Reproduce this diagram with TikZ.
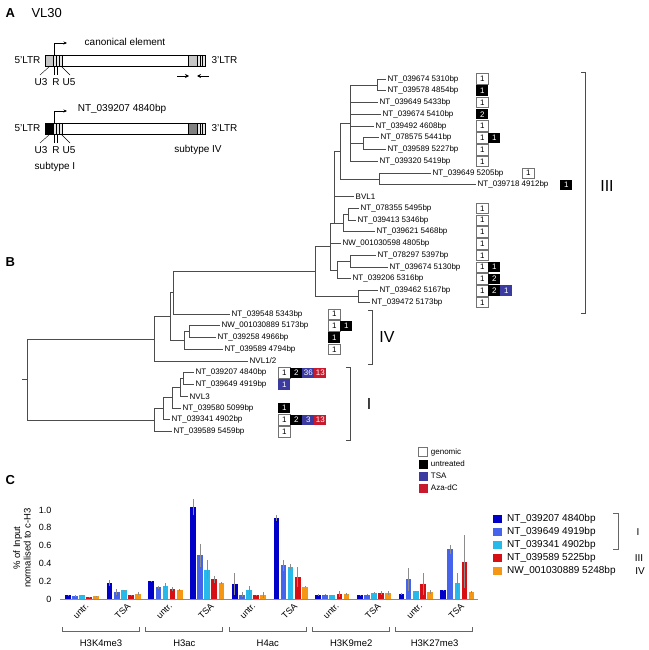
\documentclass[tikz,border=0pt]{standalone}
\usepackage{fontspec}
\setmainfont{Liberation Sans}
\usetikzlibrary{calc,positioning,arrows.meta}

\definecolor{tsablue}{RGB}{58,58,160}
\definecolor{azared}{RGB}{200,25,45}
\definecolor{barc0}{RGB}{0,0,200}
\definecolor{barc1}{RGB}{70,100,235}
\definecolor{barc2}{RGB}{40,185,235}
\definecolor{barc3}{RGB}{215,15,20}
\definecolor{barc4}{RGB}{245,150,20}

\begin{document}
\begin{tikzpicture}[x=1pt,y=-1pt,font=\fontsize{8}{9.6}\selectfont]
    \tikzstyle{branch}=[draw=black!70, line width=0.6pt];
    \tikzstyle{leaf}=[anchor=west, inner sep=1.5pt];
    \tikzstyle{cnt}=[anchor=west, minimum width=12pt, minimum height=10.5pt, inner sep=0pt, line width=0.5pt];
    \tikzstyle{cntg}=[cnt, draw=black!55, fill=white];
    \tikzstyle{cntu}=[cnt, fill=black, text=white];
    \tikzstyle{cntt}=[cnt, fill=tsablue, text=white];
    \tikzstyle{cnta}=[cnt, fill=azared, text=white];
    \tikzstyle{key}=[minimum size=9pt, inner sep=0pt, line width=0.5pt];
    \tikzstyle{keyg}=[key, draw=black!55, fill=white];
    \tikzstyle{keyu}=[key, fill=black];
    \tikzstyle{keyt}=[key, fill=tsablue];
    \tikzstyle{keya}=[key, fill=azared];
    \tikzstyle{clade}=[draw=black!70, line width=0.7pt];
    \tikzstyle{panel}=[anchor=west, font=\fontsize{13}{13}\selectfont\bfseries];
    \tikzstyle{big}=[font=\fontsize{10}{12}\selectfont];
    \tikzstyle{errbar}=[draw=black!45, line width=0.4pt];
    \tikzstyle{swatch}=[minimum width=9pt, minimum height=8pt, inner sep=0pt];

    \useasboundingbox (0,0) rectangle (648,650);

    % Panel A: the two VL30 elements
    \node[panel] (lblA) at (2,13) {A};
    \node[anchor=west, font=\fontsize{13}{13}\selectfont] (vl30) at (28,13) {VL30};
    \foreach \yb/\ucol/\rcol/\n in {55/black!22/black!22/1, 123/black/black!50/2} {
      \draw[fill=white, line width=0.5pt] (45,\yb) rectangle (205,\yb+11);
      \fill[\ucol] (45,\yb) rectangle (53,\yb+11);
      \fill[black!10] (53,\yb) rectangle (62,\yb+11);
      \fill[\rcol] (188,\yb) rectangle (197,\yb+11);
      \fill[black!10] (197,\yb) rectangle (205,\yb+11);
      \foreach \xl in {53,56,59,62,188,197,200,202.5}
        \draw[line width=0.4pt] (\xl,\yb) -- (\xl,\yb+11);
      \draw[line width=0.5pt] (45,\yb) rectangle (205,\yb+11);
      % promoter
      \draw[line width=0.5pt, -{Stealth[length=3.5pt,width=3pt]}] (54.5,\yb) -- (54.5,\yb-12) -- (67,\yb-12);
      % U3 R U5 leaders
      \draw[line width=0.4pt] (50,\yb+11) -- (40,\yb+20);
      \draw[line width=0.4pt] (54.5,\yb+11) -- (54.5,\yb+20);
      \draw[line width=0.4pt] (57.5,\yb+11) -- (57.5,\yb+20);
      \draw[line width=0.4pt] (61,\yb+11) -- (70,\yb+20);
      \node[big] (u3-\n) at (41,\yb+27) {U3};
      \node[big] (r-\n) at (56,\yb+27) {R};
      \node[big] (u5-\n) at (69,\yb+27) {U5};
      \node[big, anchor=east] (ltr5-\n) at (44,\yb+5.5) {5'LTR};
      \node[big, anchor=west] (ltr3-\n) at (208,\yb+5.5) {3'LTR};
    }
    \node[big] (canon) at (125,42) {canonical element};
    \node[big] (elem) at (122,109) {NT\_039207 4840bp};
    \node[big] (subIV) at (198,150) {subtype IV};
    \node[big] (subI) at (55,167) {subtype I};
    % primers
    \draw[line width=0.9pt, -{Stealth[length=4pt,width=4pt]}] (177,76) -- (189,76);
    \draw[line width=0.9pt, -{Stealth[length=4pt,width=4pt]}] (209,76) -- (197,76);

    % Panel B: tree
    \node[panel] (lblB) at (2,262) {B};

    % leaves
    \foreach \k/\txt/\xe [evaluate=\k as \yy using 79+11.75*\k] in {
      0/NT\_039674 5310bp/386, 1/NT\_039578 4854bp/386, 2/NT\_039649 5433bp/378,
      3/NT\_039674 5410bp/381, 4/NT\_039492 4608bp/374, 5/NT\_078575 5441bp/379,
      6/NT\_039589 5227bp/386, 7/NT\_039320 5419bp/378, 8/NT\_039649 5205bp/431,
      9/NT\_039718 4912bp/476, 10/BVL1/354, 11/NT\_078355 5495bp/359,
      12/NT\_039413 5346bp/356, 13/NT\_039621 5468bp/375, 14/NW\_001030598 4805bp/341,
      15/NT\_078297 5397bp/376, 16/NT\_039674 5130bp/388, 17/NT\_039206 5316bp/351,
      18/NT\_039462 5167bp/378, 19/NT\_039472 5173bp/370, 20/NT\_039548 5343bp/230,
      21/NW\_001030889 5173bp/220, 22/NT\_039258 4966bp/216, 23/NT\_039589 4794bp/223,
      24/{NVL1/2}/248, 25/NT\_039207 4840bp/194, 26/NT\_039649 4919bp/194,
      27/NVL3/188, 28/NT\_039580 5099bp/181, 29/NT\_039341 4902bp/170,
      30/NT\_039589 5459bp/172}
      \node[leaf] (L\k) at (\xe,\yy) {\txt};

    % internal nodes
    \coordinate (p01) at (377,84.9);
    \coordinate (p56) at (363,143.6);
    \coordinate (p89) at (379,178.9);
    \coordinate (pA) at (350,123.1);
    \coordinate (pB) at (340,151);
    \coordinate (p1112) at (348,214.1);
    \coordinate (p1113) at (343,222.9);
    \coordinate (pD) at (334,222.9);
    \coordinate (p1516) at (350,261.1);
    \coordinate (pW) at (337,269.9);
    \coordinate (pU) at (330,246.4);
    \coordinate (p1819) at (358,296.4);
    \coordinate (pIII) at (315,271.4);
    \coordinate (pIVa) at (173,292.7);
    \coordinate (p2122) at (189,331.6);
    \coordinate (pIVb) at (184,340.4);
    \coordinate (pIVc) at (170,316.6);
    \coordinate (pIVd) at (154,338.8);
    \coordinate (p2526) at (183,378.6);
    \coordinate (pIa) at (180,387.4);
    \coordinate (pIb) at (172,397.7);
    \coordinate (pIc) at (163,408.7);
    \coordinate (pId) at (154,420.1);
    \coordinate (proot) at (27,379.5);
    \coordinate (rootstub) at (22,379.5);

    % branches
    \foreach \p/\c in {p01/L0, p01/L1, p56/L5, p56/L6, p89/L8, p89/L9,
      pA/p01, pA/L2, pA/L3, pA/L4, pA/p56, pA/L7, pB/pA, pB/p89,
      p1112/L11, p1112/L12, p1113/p1112, p1113/L13, pD/pB, pD/L10, pD/p1113,
      p1516/L15, p1516/L16, pW/p1516, pW/L17, pU/pD, pU/L14, pU/pW,
      p1819/L18, p1819/L19, pIII/pU, pIII/p1819, pIVa/pIII, pIVa/L20,
      p2122/L21, p2122/L22, pIVb/p2122, pIVb/L23, pIVc/pIVa, pIVc/pIVb,
      pIVd/pIVc, pIVd/L24, p2526/L25, p2526/L26, pIa/p2526, pIa/L27,
      pIb/pIa, pIb/L28, pIc/pIb, pIc/L29, pId/pIc, pId/L30,
      proot/pIVd, proot/pId}
      \draw[branch] (\p) |- (\c);
    \draw[branch] (rootstub) -- (proot);

    % copy numbers
    \foreach \k/\bx/\kinds [evaluate=\k as \yy using 79+11.75*\k] in {
      0/476/{g/1}, 1/476/{u/1}, 2/476/{g/1}, 3/476/{u/2}, 4/476/{g/1},
      5/476/{g/1,u/1}, 6/476/{g/1}, 7/476/{g/1}, 8/522/{g/1}, 9/560/{u/1},
      11/476/{g/1}, 12/476/{g/1}, 13/476/{g/1}, 14/476/{g/1}, 15/476/{g/1},
      16/476/{g/1,u/1}, 17/476/{g/1,u/2}, 18/476/{g/1,u/2,t/1}, 19/476/{g/1},
      20/328/{g/1}, 21/328/{g/1,u/1}, 22/328/{u/1}, 23/328/{g/1},
      25/278/{g/1,u/2,t/36,a/13}, 26/278/{t/1}, 28/278/{u/1},
      29/278/{g/1,u/2,t/3,a/13}, 30/278/{g/1}}
      \foreach \s/\n [count=\i from 0] in \kinds
        \node[cnt\s] (n\k-\i) at (\bx+12*\i,\yy) {\n};

    % clades
    \draw[clade] (581,72) -- (585,72) -- (585,313) -- (581,313);
    \node[font=\fontsize{16}{16}\selectfont] (cIII) at (607,186) {III};
    \draw[clade] (368,310) -- (372,310) -- (372,364) -- (368,364);
    \node[font=\fontsize{16}{16}\selectfont] (cIV) at (387,337) {IV};
    \draw[clade] (346,367) -- (350,367) -- (350,440) -- (346,440);
    \node[font=\fontsize{16}{16}\selectfont] (cI) at (369,404) {I};

    % legend
    \foreach \s/\txt [count=\i from 0] in {g/genomic, u/untreated, t/TSA, a/Aza-dC} {
      \node[key\s] (key\i) at (423,452+12*\i) {};
      \node[leaf, right=1.5pt of key\i] (keylbl\i) {\txt};
    }

    % Panel C: ChIP
    \node[panel] (lblC) at (2,480) {C};
    \node[rotate=90, align=center, font=\fontsize{9.5}{10.5}\selectfont] (ytitle) at (22,548)
      {\% of Input\\normalised to c-H3};
    \foreach \v/\t [count=\i from 0] in {0/0, 0.2/0.2, 0.4/0.4, 0.6/0.6, 0.8/0.8, 1.0/1.0}
      \node[anchor=east, font=\fontsize{9}{9}\selectfont] (yt\i) at (55,599-89*\v) {\t};
    \coordinate (ax0) at (60,599);
    \coordinate (ax1) at (478,599);
    \draw[black!45, line width=0.5pt] (ax0) -- (ax1);

    \foreach \vals [count=\g from 0] in {
      {0.04/0.01, 0.03/0.01, 0.04/0.005, 0.02/0.005, 0.03/0.005},
      {0.18/0.03, 0.08/0.03, 0.10/0.005, 0.04/0.005, 0.06/0.02},
      {0.20/0.005, 0.13/0.02, 0.15/0.03, 0.11/0.02, 0.10/0.01},
      {1.03/0.09, 0.49/0.13, 0.33/0.11, 0.22/0.04, 0.18/0.01},
      {0.17/0.12, 0.05/0.03, 0.10/0.05, 0.04/0.01, 0.045/0.03},
      {0.91/0.03, 0.38/0.06, 0.36/0.03, 0.25/0.11, 0.14/0.01},
      {0.045/0.01, 0.05/0.01, 0.04/0.01, 0.055/0.03, 0.055/0.015},
      {0.045/0.005, 0.05/0.005, 0.07/0.005, 0.07/0.025, 0.065/0.025},
      {0.055/0.01, 0.22/0.13, 0.09/0.005, 0.17/0.12, 0.08/0.02},
      {0.10/0.005, 0.56/0.05, 0.18/0.11, 0.42/0.30, 0.08/0.01}}
      \foreach \v/\e [count=\j from 0] in \vals {
        \pgfmathsetmacro{\bx}{65+41.7*\g+7.1*\j}
        \fill[barc\j] (\bx,599) rectangle ++(5.7,-89*\v);
        \draw[errbar] (\bx+2.85,599-89*\v+89*\e) -- ++(0,-178*\e);
      }

    \foreach \c [count=\g from 0] in {untr.,TSA,untr.,TSA,untr.,TSA,untr.,TSA,untr.,TSA}
      \node[rotate=45, anchor=east, inner sep=1pt, font=\fontsize{9}{9}\selectfont] (cond\g) at (65+41.7*\g+23,604) {\c};

    \foreach \m [count=\i from 0] in {H3K4me3,H3ac,H4ac,H3K9me2,H3K27me3} {
      \draw[black!60, line width=0.5pt] (62+83.4*\i,627) -- ++(0,4) -- ++(77,0) -- ++(0,-4);
      \node[font=\fontsize{9.5}{9.5}\selectfont] (mod\i) at (101+83.4*\i,643) {\m};
    }

    % legend of panel C
    \foreach \txt [count=\i from 0] in {NT\_039207 4840bp, NT\_039649 4919bp, NT\_039341 4902bp,
      NT\_039589 5225bp, NW\_001030889 5248bp} {
      \node[swatch, fill=barc\i] (sw\i) at (497.5,519+13*\i) {};
      \node[anchor=west, inner sep=1pt, font=\fontsize{10}{10}\selectfont] (swl\i) at (506,519+13*\i) {\txt};
    }
    \draw[black!60, line width=0.5pt] (613,513) -- (618,513) -- (618,549) -- (613,549);
    \node[font=\fontsize{10}{10}\selectfont] (sI) at (638,532) {I};
    \node[font=\fontsize{10}{10}\selectfont] (sIII) at (639,558) {III};
    \node[font=\fontsize{10}{10}\selectfont] (sIV) at (640,571) {IV};
\end{tikzpicture}
\end{document}
